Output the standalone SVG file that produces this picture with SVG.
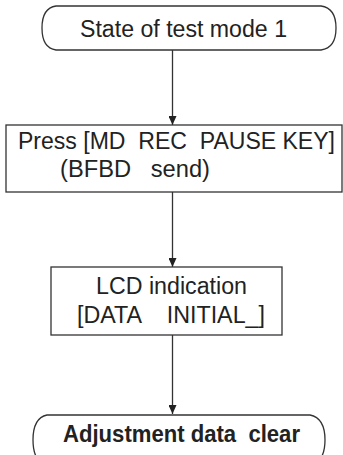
<svg xmlns="http://www.w3.org/2000/svg" width="343" height="455" viewBox="0 0 343 455">
<defs>
<style>
.box{fill:#fff;stroke:#333;stroke-width:1.3}
.t{font-family:"Liberation Sans",Arial,sans-serif;font-size:23px;fill:#222}
.b{font-weight:bold}
.c{stroke:#333;stroke-width:1.3;fill:none}
</style>
<marker id="ah" markerWidth="9" markerHeight="8" refX="9" refY="4" orient="auto" markerUnits="userSpaceOnUse" viewBox="0 0 9 8">
<path d="M0,0 L9,4 L0,8 Z" fill="#222"/>
</marker>
</defs>
<rect width="343" height="455" fill="#fff"/>
<g id="connectors">
<line class="c" x1="172.5" y1="50" x2="172.5" y2="125" marker-end="url(#ah)"/>
<line class="c" x1="172.5" y1="192" x2="172.5" y2="267" marker-end="url(#ah)"/>
<line class="c" x1="172.5" y1="335" x2="172.5" y2="414" marker-end="url(#ah)"/>
</g>
<g id="start">
<path class="box" d="M56,6 H321 Q336,8 336,28 Q336,48 321,50 H56 Q42,48 42,28 Q42,8 56,6 Z"/>
<text class="t" x="80" y="37" textLength="207" lengthAdjust="spacingAndGlyphs">State of test mode 1</text>
</g>
<g id="press">
<rect class="box" x="6" y="125" width="336" height="67"/>
<text class="t" x="18" y="149" textLength="317" lengthAdjust="spacingAndGlyphs" xml:space="preserve">Press [MD  REC  PAUSE KEY]</text>
<text class="t" x="60" y="177" textLength="150" lengthAdjust="spacingAndGlyphs" xml:space="preserve">(BFBD   send)</text>
</g>
<g id="lcd">
<rect class="box" x="51" y="267" width="231" height="68"/>
<text class="t" x="96" y="294" textLength="151" lengthAdjust="spacingAndGlyphs">LCD indication</text>
<text class="t" x="77" y="323" textLength="188" lengthAdjust="spacingAndGlyphs" xml:space="preserve">[DATA    INITIAL_]</text>
</g>
<g id="end">
<path class="box" d="M47,415 H310 Q325,418 325,440 Q325,462 310,465 H47 Q33,462 33,440 Q33,418 47,415 Z"/>
<text class="t b" x="63" y="442" textLength="237" lengthAdjust="spacingAndGlyphs" xml:space="preserve">Adjustment data  clear</text>
</g>
</svg>
